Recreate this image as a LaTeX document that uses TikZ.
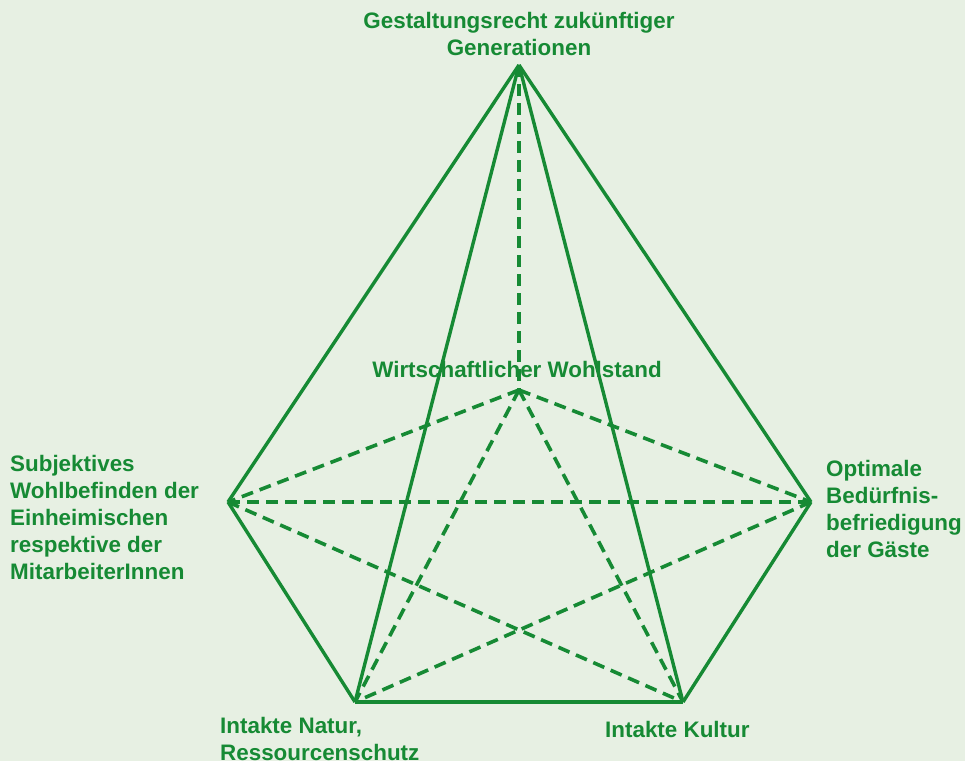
\documentclass[tikz,border=0pt]{standalone}
\usepackage{fontspec}
\setmainfont{Liberation Sans}
\definecolor{bg}{RGB}{231,240,227}
\definecolor{gr}{RGB}{22,138,52}
\begin{document}
\begin{tikzpicture}[x=1pt,y=-1pt,
  solidline/.style={draw=gr,line width=3.4pt,line join=miter},
  dashline/.style={draw=gr,line width=3.6pt,dash pattern=on 12pt off 7pt},
  lbl/.style={text=gr,font=\fontsize{22.4}{27}\selectfont\bfseries,inner sep=0pt}]
\fill[bg] (0,0) rectangle (965,761);
\useasboundingbox (0,0) rectangle (965,761);
\coordinate (A) at (519,65);
\coordinate (L) at (228,502);
\coordinate (R) at (811,502);
\coordinate (BL) at (355,702);
\coordinate (BR) at (683,702);
\coordinate (C) at (519,390);
% dashed
\draw[dashline] (A) -- (C);
\draw[dashline] (C) -- (L);
\draw[dashline] (C) -- (R);
\draw[dashline] (C) -- (BL);
\draw[dashline] (C) -- (BR);
\draw[dashline] (L) -- (R);
\draw[dashline] (L) -- (BR);
\draw[dashline] (R) -- (BL);
% solid
\draw[solidline] (A) -- (L);
\draw[solidline] (A) -- (R);
\draw[solidline] (A) -- (BL);
\draw[solidline] (A) -- (BR);
\draw[solidline] (L) -- (BL);
\draw[solidline] (R) -- (BR);
\draw[solidline] (BL) -- (BR);
% labels (base anchor = baseline of last line)
\node[lbl,anchor=base,align=center] (tA) at (519,55) {Gestaltungsrecht zukünftiger\\Generationen};
\node[lbl,anchor=base] (tC) at (517,377) {Wirtschaftlicher Wohlstand};
\node[lbl,anchor=base west,align=left] (tL) at (10,579) {Subjektives\\Wohlbefinden der\\Einheimischen\\respektive der\\MitarbeiterInnen};
\node[lbl,anchor=base west,align=left] (tR) at (826,557) {Optimale\\Bedürfnis-\\befriedigung\\der Gäste};
\node[lbl,anchor=base west,align=left] (tBL) at (220,760) {Intakte Natur,\\Ressourcenschutz};
\node[lbl,anchor=base west] (tBR) at (605,737) {Intakte Kultur};
\end{tikzpicture}
\end{document}
